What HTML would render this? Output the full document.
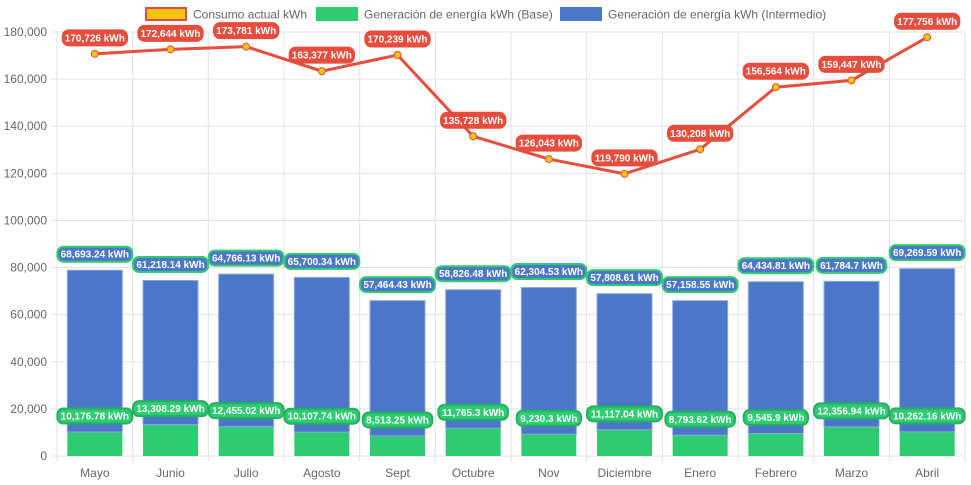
<!DOCTYPE html>
<html><head><meta charset="utf-8"><style>
body{margin:0;background:#fff;}
svg{display:block;font-family:"Liberation Sans",Arial,sans-serif;}
</style></head><body>
<svg id="c" width="971" height="485"></svg>
<script>
const categories=["Mayo","Junio","Julio","Agosto","Sept","Octubre","Nov","Diciembre","Enero","Febrero","Marzo","Abril"];
const baseGen=[10176.78,13308.29,12455.02,10107.74,8513.25,11765.3,9230.3,11117.04,8793.62,9545.9,12356.94,10262.16];
const midGen=[68693.24,61218.14,64766.13,65700.34,57464.43,58826.48,62304.53,57808.61,57158.55,64434.81,61784.7,69269.59];
const consumo=[170726,172644,173781,163377,170239,135728,126043,119790,130208,156564,159447,177756];
const yTicks=[0,20000,40000,60000,80000,100000,120000,140000,160000,180000];
const NS="http://www.w3.org/2000/svg";
const svg=document.getElementById('c');
const L=57,R=965,T=32,B=456,yMax=180000;
const bw=(R-L)/categories.length;
const y=v=>B-v/yMax*(B-T);
const xc=i=>L+bw*(i+0.5);
function mk(t,a,p){const e=document.createElementNS(NS,t);for(const k in a)e.setAttribute(k,a[k]);(p||svg).appendChild(e);return e;}
const fmt=v=>v.toLocaleString('en-US',{maximumFractionDigits:2});
yTicks.forEach(v=>{
 const g=mk('line',{x1:L-6,x2:R,y1:y(v),y2:y(v),stroke:'#e2e2e2'});
 
 const t=mk('text',{x:L-10,y:y(v)+4,'text-anchor':'end','font-size':12,fill:'#666'});t.textContent=fmt(v);
 
});
for(let i=0;i<=categories.length;i++){
 const g=mk('line',{x1:L+bw*i,x2:L+bw*i,y1:T,y2:B+6,stroke:'#e2e2e2'});
 
}
categories.forEach((c,i)=>{
 const t=mk('text',{x:xc(i),y:B+21,'text-anchor':'middle','font-size':12,fill:'#666'});t.textContent=c;
 
});
const barW=55;
function label(x,cy,txt,fill,stroke){
 const w=txt.length*5.3+6;
 const r=mk('rect',{x:x-w/2,y:cy-7.5,width:w,height:15,rx:6,fill:fill,stroke:stroke,'stroke-width':2});
 
 const t=mk('text',{x:x,y:cy+3.5,'text-anchor':'middle','font-size':10,'font-weight':'bold',fill:'#fff'});t.textContent=txt;
 
}
categories.forEach((c,i)=>{
 const b=mk('rect',{x:xc(i)-barW/2,y:y(baseGen[i]),width:barW,height:B-y(baseGen[i]),fill:'#2ecc71'});
 
 const top=baseGen[i]+midGen[i];
 const m=mk('rect',{x:xc(i)-barW/2,y:y(top),width:barW,height:y(baseGen[i])-y(top),fill:'#4b77c9',stroke:'#8fa9dd','stroke-width':1});
 
});
categories.forEach((c,i)=>{
 label(xc(i),y(baseGen[i]+midGen[i])-16,fmt(midGen[i])+' kWh','#4b77c9','#2ecc71');
 label(xc(i),y(baseGen[i])-16,fmt(baseGen[i])+' kWh','#2ecc71','#27ae60');
});
const pl=mk('polyline',{points:consumo.map((v,i)=>xc(i)+','+y(v)).join(' '),fill:'none',stroke:'#e74c3c','stroke-width':3});

consumo.forEach((v,i)=>{
 const p=mk('circle',{cx:xc(i),cy:y(v),r:3.5,fill:'#f1c40f',stroke:'#e74c3c','stroke-width':1});
 
});
consumo.forEach((v,i)=>label(xc(i),y(v)-16,fmt(v)+' kWh','#e74c3c','#e74c3c'));
const leg=[["Consumo actual kWh",'#f1c40f','#e74c3c',146],["Generación de energía kWh (Base)",'#2ecc71','#2ecc71',317],["Generación de energía kWh (Intermedio)",'#4b77c9','#4b77c9',561]];
leg.forEach(l=>{
 const r=mk('rect',{x:l[3],y:8,width:40,height:12,fill:l[1],stroke:l[2],'stroke-width':2});
 
 const t=mk('text',{x:l[3]+47,y:18.5,'font-size':12,fill:'#666'});t.textContent=l[0];
 
});
</script>
</body></html>
